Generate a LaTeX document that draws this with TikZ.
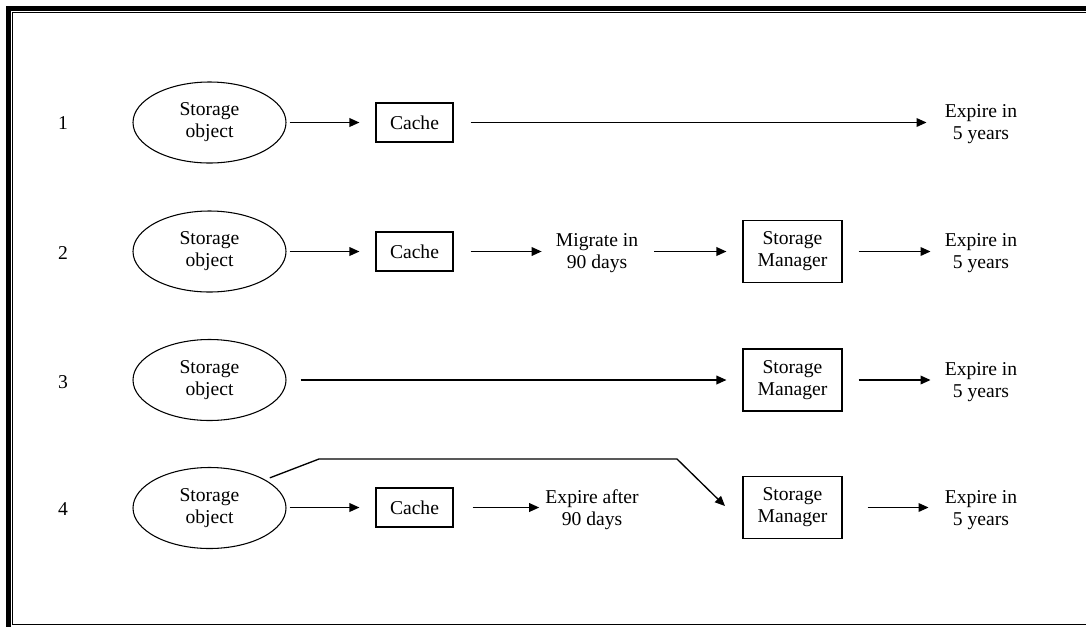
\documentclass[tikz,border=0pt]{standalone}
\usepackage{fontspec}
\setmainfont{Liberation Serif}
\usetikzlibrary{arrows.meta,shapes.geometric}
\begin{document}
\begin{tikzpicture}[x=0.75pt,y=-0.75pt,
  every node/.style={font=\fontsize{14.7}{16.5}\selectfont, align=center, inner sep=0pt},
  obj/.style={ellipse, draw, line width=0.8pt, minimum width=114.75pt, minimum height=60.75pt},
  cachebox/.style={rectangle, draw, line width=0.8pt, minimum width=57.75pt, minimum height=29.25pt},
  mgrbox/.style={rectangle, draw, line width=0.8pt, minimum width=74.25pt, minimum height=46.5pt},
  flow/.style={line width=1pt, -{Triangle[length=7.5pt,width=6.5pt]}},
  frameout/.style={line width=3.75pt},
  framein/.style={line width=1pt}
]
\useasboundingbox (0,0) rectangle (1086,626);
\clip (0,0) rectangle (1086,626);

% double frame
\draw[frameout] (8.5,700) -- (8.5,8.5) -- (1200,8.5);
\draw[framein] (12.7,624.8) rectangle (1200,12.7);

% row numbers
\node (n1) at (63,123) {1};
\node (n2) at (63,253) {2};
\node (n3) at (63,382) {3};
\node (n4) at (63,509) {4};

% row 1
\node[obj] (e1) at (209.5,122.5) {Storage\\object};
\node[cachebox] (c1) at (414.5,122.5) {Cache};
\node (x1) at (981,124) {Expire in\\5 years};
\draw[flow, shorten <=2.25pt, shorten >=12pt] (e1.east) -- (c1.west);
\draw[flow, shorten <=12.75pt, shorten >=13.5pt] (c1.east) -- (x1.west |- c1.east);

% row 2
\node[obj] (e2) at (209.5,251.5) {Storage\\object};
\node[cachebox] (c2) at (414.5,251.5) {Cache};
\node (m2) at (597,253) {Migrate in\\90 days};
\node[mgrbox] (s2) at (792.5,251.5) {Storage\\Manager};
\node (x2) at (981,253) {Expire in\\5 years};
\draw[flow, shorten <=2.25pt, shorten >=12pt] (e2.east) -- (c2.west);
\draw[flow, shorten <=12.75pt, shorten >=10.5pt] (c2.east) -- (m2.west |- c2.east);
\draw[flow, shorten <=12pt, shorten >=12pt] (m2.east |- s2.west) -- (s2.west);
\draw[flow, shorten <=12pt, shorten >=10.5pt] (s2.east) -- (x2.west |- s2.east);

% row 3
\node[obj] (e3) at (209.5,380) {Storage\\object};
\node[mgrbox] (s3) at (792.5,380) {Storage\\Manager};
\node (x3) at (981,382) {Expire in\\5 years};
\draw[flow, shorten <=10.5pt, shorten >=12pt] (e3.east) -- (s3.west);
\draw[flow, shorten <=12pt, shorten >=10.5pt] (s3.east) -- (x3.west |- s3.east);

% row 4
\node[obj] (e4) at (209.5,508) {Storage\\object};
\node[cachebox] (c4) at (414.5,507.5) {Cache};
\node (m4) at (592,510) {Expire after\\90 days};
\node[mgrbox] (s4) at (792.5,507.5) {Storage\\Manager};
\node (x4) at (981,510) {Expire in\\5 years};
\coordinate (b1) at (319,459);
\coordinate (b2) at (677,459);
\coordinate (t4) at (725,506);
\draw[flow, shorten <=2.25pt, shorten >=12pt] (e4.east |- c4.west) -- (c4.west);
\draw[flow, shorten <=14.25pt, shorten >=4.5pt] (c4.east) -- (m4.west |- c4.east);
\draw[flow, shorten <=18.75pt, shorten >=12pt] (s4.east) -- (x4.west |- s4.east);
\draw[flow, shorten <=3.75pt] (e4.27) -- (b1) -- (b2) -- (t4);
\end{tikzpicture}
\end{document}
